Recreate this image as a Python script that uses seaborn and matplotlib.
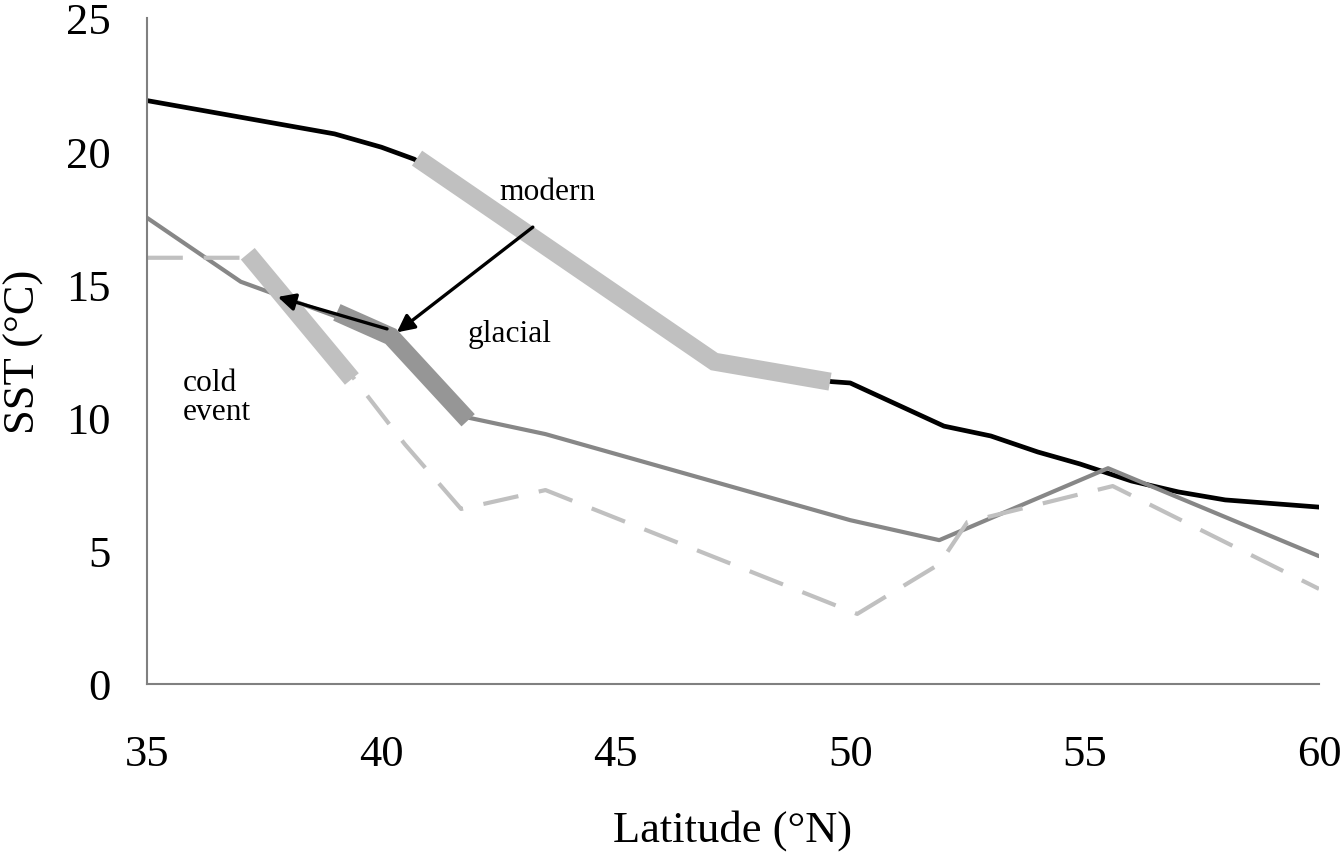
import matplotlib
matplotlib.use("Agg")
import matplotlib.pyplot as plt
import seaborn as sns
import pandas as pd

# ---- data ----
lat_modern = [35, 39, 40, 40.7, 47.1, 49.6, 50, 52, 53, 54, 54.9, 56, 57, 58, 60]
sst_modern = [21.9, 20.65, 20.15, 19.7, 12.2, 11.35, 11.3, 9.68, 9.31, 8.71, 8.26, 7.62, 7.21, 6.91, 6.64]

lat_glacial = [35, 37, 40.2, 41.85, 43.5, 50, 51.9, 55.5, 60]
sst_glacial = [17.5, 15.1, 13.05, 10.0, 9.38, 6.15, 5.4, 8.1, 4.8]

lat_cold = [35, 37.15, 39.4, 40.5, 41.7, 43.5, 50.15, 51.9, 52.5, 55.6, 60]
sst_cold = [16.0, 16.0, 11.5, 9.0, 6.57, 7.28, 2.63, 4.5, 6.08, 7.43, 3.57]

hl_modern_lat = [40.76, 47.1, 49.57]
hl_modern_sst = [19.74, 12.1, 11.35]
hl_glacial_lat = [39.05, 40.2, 41.85]
hl_glacial_sst = [13.95, 13.05, 9.9]
hl_cold_lat = [37.15, 39.37]
hl_cold_sst = [16.15, 11.45]

arrow1 = ((43.23, 17.15), (40.33, 13.2))
arrow2 = ((40.12, 13.33), (37.79, 14.53))

x_ticks = [35, 40, 45, 50, 55, 60]
y_ticks = [0, 5, 10, 15, 20, 25]

sns.set_theme(style="white")
plt.rcParams['font.family'] = ['Liberation Serif', 'DejaVu Serif']
plt.rcParams['text.color'] = 'black'
plt.rcParams['axes.labelcolor'] = 'black'

fig = plt.figure(figsize=(13.41, 8.53), dpi=100)
ax = fig.add_axes([147/1341, 1 - 685/853, (1319-147)/1341, (685-19)/853])

def line(lat, sst, **kw):
    df = pd.DataFrame({"lat": lat, "sst": sst})
    n0 = len(ax.lines)
    sns.lineplot(data=df, x="lat", y="sst", sort=False, estimator=None, ax=ax, **kw)
    return ax.lines[n0]

line(lat_modern, sst_modern, color="black", linewidth=3.4, zorder=2)
line(lat_glacial, sst_glacial, color="#878787", linewidth=3.0, zorder=2)
ld = line(lat_cold, sst_cold, color="#c0c0c0", linewidth=3.0, zorder=2)
ld.set_dashes([8.6, 5.0])
ld.set_dash_capstyle('butt')

for la, ss, col in [(hl_modern_lat, hl_modern_sst, "#c0c0c0"),
                    (hl_glacial_lat, hl_glacial_sst, "#969696"),
                    (hl_cold_lat, hl_cold_sst, "#c0c0c0")]:
    l = line(la, ss, color=col, linewidth=13, zorder=3)
    l.set_solid_capstyle('butt')
    l.set_solid_joinstyle('miter')

for (start, end) in (arrow1, arrow2):
    ax.annotate("", xy=end, xytext=start,
                arrowprops=dict(arrowstyle="-|>", color="black", lw=2.4,
                                mutation_scale=26, shrinkA=0, shrinkB=0),
                zorder=5)

ax.text(43.55, 18.47, "modern", fontsize=22.7, ha="center", va="center", color="black")
ax.text(42.74, 13.14, "glacial", fontsize=22.7, ha="center", va="center", color="black")
ax.text(35.77, 10.77, "cold\nevent", fontsize=22.7, ha="left", va="center",
        linespacing=1.0, color="black")

ax.set_xlim(35, 60)
ax.set_ylim(0, 25)
ax.set_xticks(x_ticks)
ax.set_yticks(y_ticks)
ax.set_xticklabels([str(t) for t in x_ticks])
ax.set_yticklabels([str(t) for t in y_ticks])
ax.set_xlabel("Latitude (°N)", fontsize=32, labelpad=25, color="black")
ax.set_ylabel("SST (°C)", fontsize=32, labelpad=16, color="black")

for side in ("top", "right"):
    ax.spines[side].set_visible(False)
for side in ("left", "bottom"):
    ax.spines[side].set_color("#808080")
    ax.spines[side].set_linewidth(1.5)
ax.tick_params(axis="both", which="major", direction="out", length=10, width=1.5,
               color="#808080", labelsize=32, labelcolor="black")
ax.tick_params(axis="y", pad=16)
ax.tick_params(axis="x", pad=26)
ax.grid(False)
ax.set_facecolor("white")
fig.patch.set_facecolor("white")

fig.savefig("out.png", dpi=100, facecolor="white")
